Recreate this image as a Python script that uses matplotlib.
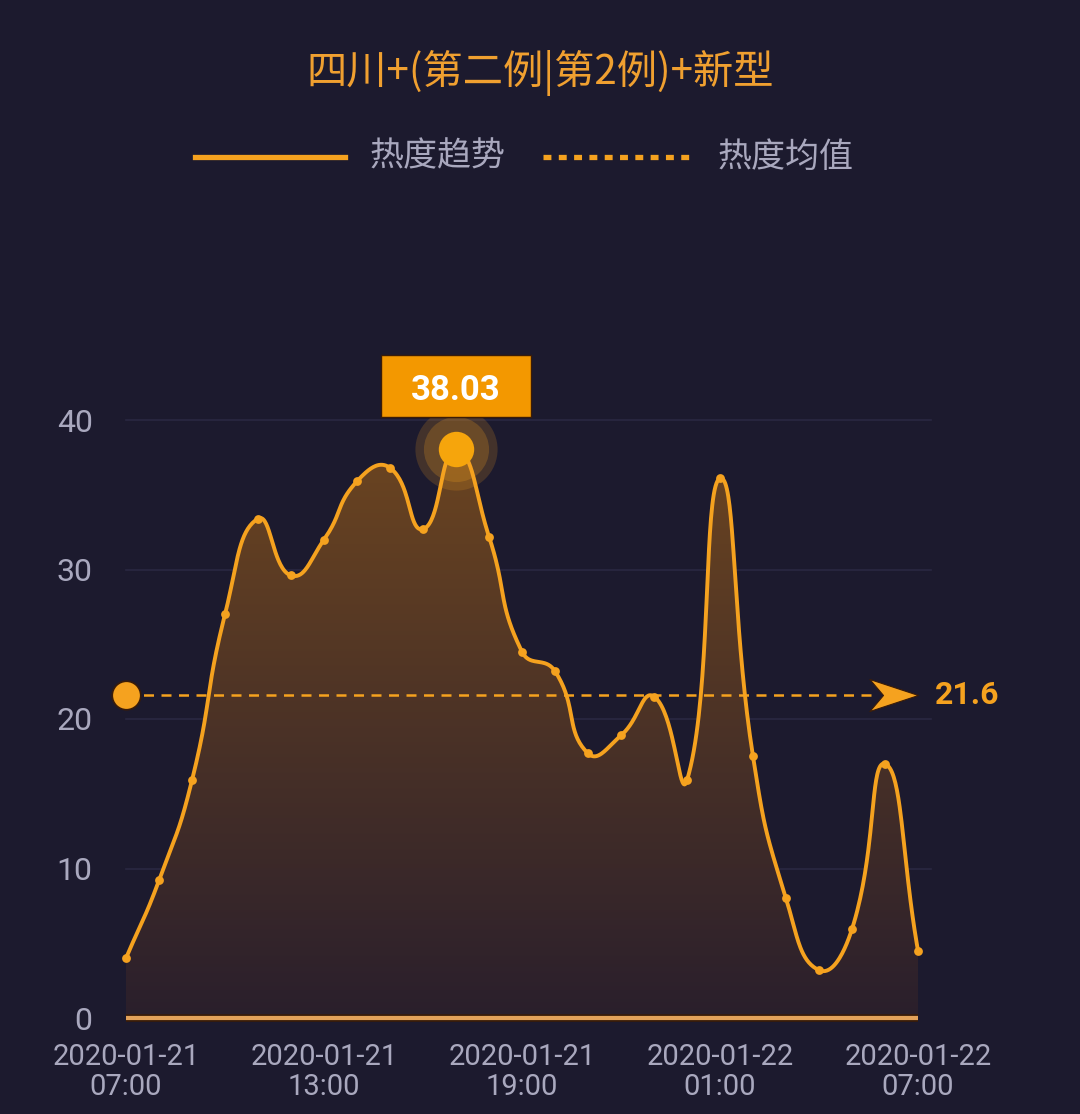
import numpy as np
import matplotlib
matplotlib.use("Agg")
import matplotlib.pyplot as plt
from matplotlib.patches import Rectangle, Polygon
from matplotlib.lines import Line2D
from matplotlib.colors import LinearSegmentedColormap
from matplotlib.path import Path

plt.rcParams['font.family'] = ['Roboto', 'Noto Sans CJK SC', 'DejaVu Sans']

title = "四川+(第二例|第2例)+新型"
legend_labels = ["热度趋势", "热度均值"]
hours = list(range(25))
values = [4.0, 9.2, 15.9, 27.0, 33.4, 29.6, 32.0, 35.9, 36.8, 32.7, 38.03, 32.2,
          24.5, 23.2, 17.7, 18.9, 21.5, 15.9, 36.1, 17.5, 8.0, 3.2, 5.95, 17.0, 4.5]
mean_value = 21.6
tick_hours = [0, 6, 12, 18, 24]
tick_labels = ["2020-01-21\n07:00", "2020-01-21\n13:00", "2020-01-21\n19:00",
               "2020-01-22\n01:00", "2020-01-22\n07:00"]
yticks = [0, 10, 20, 30, 40]

BG = "#1c1a2e"
ORANGE = "#f5a21f"
GRAY = "#a9a8be"
CJK = ['Noto Sans CJK SC', 'DejaVu Sans']

W, H = 1080, 1114
fig = plt.figure(figsize=(W / 100, H / 100), dpi=100, facecolor=BG)
x0, x1 = 126, 918
y0, y40 = 1018, 420
ax = fig.add_axes([x0 / W, (H - y0) / H, (x1 - x0) / W, (y0 - y40) / H])
ax.set_facecolor(BG)
ax.set_xlim(0, 24)
ax.set_ylim(0, 40)
for s in ax.spines.values():
    s.set_visible(False)

# smooth curve (echarts-like bezier smoothing), computed in pixel-like space
sx, sy = 33.0, 14.95
P = np.array([[h * sx, v * sy] for h, v in zip(hours, values)])
n = len(P)
cps = []
smooth = 0.5
for i in range(n):
    prev = P[max(i - 1, 0)]
    nxt = P[min(i + 1, n - 1)]
    p = P[i]
    v = (nxt - prev) * smooth
    d0 = np.linalg.norm(p - prev)
    d1 = np.linalg.norm(p - nxt)
    s = d0 + d1
    if s == 0:
        cps.append((p, p))
        continue
    cps.append((p - v * d0 / s, p + v * d1 / s))
curve = []
t = np.linspace(0, 1, 40)[:, None]
for i in range(n - 1):
    a, b = P[i], P[i + 1]
    c1 = cps[i][1]
    c2 = cps[i + 1][0]
    seg = (1 - t) ** 3 * a + 3 * (1 - t) ** 2 * t * c1 + 3 * (1 - t) * t ** 2 * c2 + t ** 3 * b
    curve.append(seg if i == 0 else seg[1:])
curve = np.vstack(curve)
cx = curve[:, 0] / sx
cy = curve[:, 1] / sy

# grid
for yv in yticks[1:]:
    ax.plot([0, 24.4], [yv, yv], color="#2a2842", lw=1.2, zorder=1, clip_on=False)

# gradient fill
grad = np.linspace(0, 1, 256)[:, None]
cmap = LinearSegmentedColormap.from_list("g", [(0, "#2a1f2c"), (1, "#6e4620")])
im = ax.imshow(grad, extent=[0, 24, 0, 40], origin="lower", aspect="auto",
               cmap=cmap, zorder=2)
poly = Polygon(np.column_stack([np.r_[cx, 24, 0], np.r_[cy, 0, 0]]), closed=True,
               transform=ax.transData, facecolor="none", edgecolor="none")
ax.add_patch(poly)
im.set_clip_path(poly)

# baseline
ax.plot([0, 24], [0, 0], color="#3a1c08", lw=5.5, zorder=3, solid_capstyle="butt", clip_on=False)
ax.plot([0, 24], [0, 0], color="#e3a25a", lw=3, zorder=3.1, solid_capstyle="butt", clip_on=False)

# line
ax.plot(cx, cy, color=ORANGE, lw=2.8, zorder=4, clip_on=False)
ax.scatter(hours, values, s=40, color=ORANGE, zorder=5, clip_on=False, linewidths=0)

# mean line
ax.plot([0, 22.8], [mean_value, mean_value], color=ORANGE, lw=1.8, ls=(0, (4, 3)), zorder=6)
ax.scatter([0], [mean_value], s=420, color=ORANGE, edgecolors="#3a1c08", linewidths=1.2,
           zorder=7, clip_on=False)
# arrow head (notched marker with tip at the marker origin)
arrow_path = Path([(0, 0), (-1, 0.33), (-0.72, 0), (-1, -0.33), (0, 0)],
                  [Path.MOVETO, Path.LINETO, Path.LINETO, Path.LINETO, Path.CLOSEPOLY])
ax.plot([24], [mean_value], marker=arrow_path, markersize=70, color=ORANGE,
        markeredgecolor="#3a1c08", markeredgewidth=0.8, zorder=7, clip_on=False, ls="none")
ax.text(24.5, mean_value, f"{mean_value}", color=ORANGE, fontsize=23, fontweight="bold",
        va="center", ha="left", clip_on=False)

# peak highlight
pk = int(np.argmax(values))
ax.scatter([hours[pk]], [values[pk]], s=3500, color=ORANGE, alpha=0.18, linewidths=0, zorder=8, clip_on=False)
ax.scatter([hours[pk]], [values[pk]], s=2200, color=ORANGE, alpha=0.22, linewidths=0, zorder=8, clip_on=False)
ax.scatter([hours[pk]], [values[pk]], s=650, color="#f6a50c", linewidths=0, zorder=9, clip_on=False)
# label box
bx0, bx1 = 381, 531
by0, by1 = 355, 417
fig.patches.append(Rectangle((bx0 / W, (H - by1) / H), (bx1 - bx0) / W, (by1 - by0) / H,
                             transform=fig.transFigure, facecolor="#f39800",
                             edgecolor="#3a1c08", lw=1, zorder=10))
fig.text((bx0 + bx1) / 2 / W, (H - 391) / H, f"{values[pk]:.2f}", color="white",
         fontsize=25, fontweight="bold", ha="center", va="center", zorder=11)

# ticks
ax.set_yticks(yticks)
ax.set_yticklabels([str(v) for v in yticks], color=GRAY, fontsize=23)
ax.set_xticks(tick_hours)
ax.set_xticklabels(tick_labels, color=GRAY, fontsize=21, linespacing=1.1)
ax.tick_params(axis="both", length=0)
ax.tick_params(axis="y", pad=24)
ax.tick_params(axis="x", pad=18)

# title
fig.text(540 / W, 1 - 73 / H, title, color="#f0a030", fontsize=29, ha="center", va="center",
         family=CJK)

# legend
ly = 1 - 157 / H
fig.lines.append(Line2D([195 / W, 345 / W], [ly, ly], transform=fig.transFigure,
                        color=ORANGE, lw=3.8))
fig.text(370 / W, ly, legend_labels[0], color=GRAY, fontsize=24.5, ha="left", va="center",
         family=CJK)
fig.lines.append(Line2D([543 / W, 692 / W], [ly, ly], transform=fig.transFigure,
                        color=ORANGE, lw=3.8, ls=(0, (1.5, 1.4))))
fig.text(718 / W, ly, legend_labels[1], color=GRAY, fontsize=24.5, ha="left", va="center",
         family=CJK)

fig.savefig("out.png", dpi=100, facecolor=BG)
